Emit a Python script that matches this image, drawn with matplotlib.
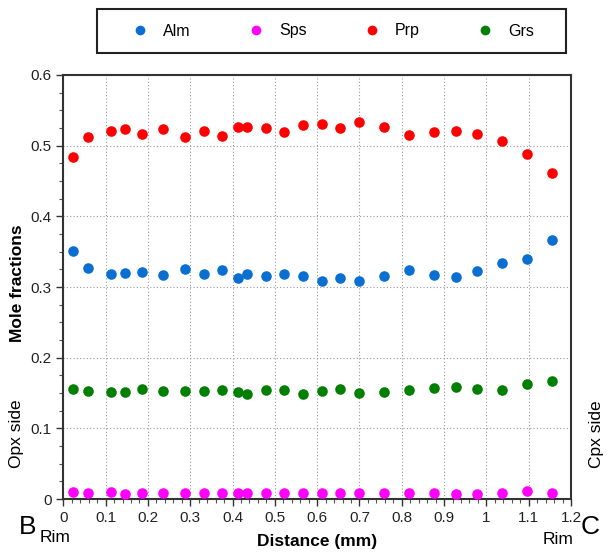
import matplotlib
matplotlib.use("Agg")
import matplotlib.pyplot as plt
from matplotlib.ticker import MultipleLocator
from matplotlib.lines import Line2D
from matplotlib.patches import Rectangle

# distance along the profile (mm)
distance = [0.023, 0.058, 0.112, 0.147, 0.185, 0.236, 0.288, 0.332, 0.376, 0.412,
            0.434, 0.478, 0.522, 0.567, 0.611, 0.655, 0.699, 0.758, 0.817, 0.875,
            0.927, 0.978, 1.036, 1.095, 1.155]

alm = [0.351, 0.327, 0.318, 0.320, 0.321, 0.317, 0.326, 0.318, 0.324, 0.313,
       0.319, 0.315, 0.319, 0.315, 0.308, 0.313, 0.309, 0.315, 0.324, 0.317,
       0.314, 0.322, 0.334, 0.340, 0.366]
sps = [0.010, 0.009, 0.010, 0.007, 0.008, 0.008, 0.009, 0.008, 0.008, 0.009,
       0.008, 0.008, 0.009, 0.009, 0.009, 0.008, 0.008, 0.008, 0.008, 0.008,
       0.0075, 0.0075, 0.008, 0.011, 0.008]
prp = [0.484, 0.512, 0.521, 0.523, 0.517, 0.523, 0.512, 0.521, 0.514, 0.527,
       0.527, 0.525, 0.520, 0.529, 0.531, 0.525, 0.534, 0.527, 0.515, 0.519,
       0.521, 0.517, 0.507, 0.488, 0.461]
grs = [0.155, 0.153, 0.151, 0.152, 0.156, 0.153, 0.153, 0.153, 0.154, 0.152,
       0.148, 0.154, 0.154, 0.148, 0.153, 0.155, 0.150, 0.152, 0.154, 0.157,
       0.159, 0.156, 0.154, 0.163, 0.167]

series = [("Alm", alm, "#0a6fd0"), ("Sps", sps, "#ff00ff"),
          ("Prp", prp, "#ff0000"), ("Grs", grs, "#007f00")]

xticks = [0, 0.1, 0.2, 0.3, 0.4, 0.5, 0.6, 0.7, 0.8, 0.9, 1.0, 1.1, 1.2]
xticklabels = ["0", "0.1", "0.2", "0.3", "0.4", "0.5", "0.6", "0.7", "0.8", "0.9", "1", "1.1", "1.2"]
yticks = [0, 0.1, 0.2, 0.3, 0.4, 0.5, 0.6]
yticklabels = ["0", "0.1", "0.2", "0.3", "0.4", "0.5", "0.6"]

plt.rcParams["font.family"] = ["Liberation Sans", "DejaVu Sans"]

W, H = 611, 553
fig = plt.figure(figsize=(W / 100, H / 100), dpi=100)
ax = fig.add_axes([0.1036, 0.0976, 0.831, 0.7668])

for name, vals, col in series:
    ax.scatter(distance, vals, s=58, color=col, label=name, zorder=3, linewidths=0)

ax.set_xlim(0, 1.2)
ax.set_ylim(0, 0.6)
ax.xaxis.set_minor_locator(MultipleLocator(0.02))
ax.yaxis.set_minor_locator(MultipleLocator(0.025))
ax.set_xticks(xticks)
ax.set_xticklabels(xticklabels)
ax.set_yticks(yticks)
ax.set_yticklabels(yticklabels)
ax.tick_params(which="major", length=5, width=1, labelsize=11, color="#333333", labelcolor="#222222")
ax.tick_params(which="minor", length=3, width=0.8, color="#555555")
ax.grid(True, which="major", linestyle=(0, (1, 2)), color="#999999", linewidth=0.8)
for sp in ax.spines.values():
    sp.set_linewidth(1.5)
    sp.set_color("#333333")

ax.set_xlabel("Distance (mm)", fontsize=12.5, fontweight="bold")
ax.xaxis.label.set_va("center")
ax.xaxis.set_label_coords(0.5, -0.099)
ax.set_ylabel("Mole fractions", fontsize=12.5, fontweight="bold")
ax.yaxis.label.set_va("center")
ax.yaxis.set_label_coords(-0.091, 0.509)

fig.text(28 / W, 1 - 527 / H, "B", fontsize=19, ha="center", va="center")
fig.text(590 / W, 1 - 527 / H, "C", fontsize=19, ha="center", va="center")
fig.text(55 / W, 1 - 538 / H, "Rim", fontsize=12.5, ha="center", va="center")
fig.text(558 / W, 1 - 539 / H, "Rim", fontsize=12.5, ha="center", va="center")
fig.text(17 / W, 1 - 434 / H, "Opx side", fontsize=12.5, rotation=90, ha="center", va="center")
fig.text(597 / W, 1 - 434 / H, "Cpx side", fontsize=12.5, rotation=90, ha="center", va="center")

# legend box at the top
fig.patches.append(Rectangle((97 / W, 1 - 53 / H), 469 / W, 44 / H, transform=fig.transFigure,
                             fill=True, facecolor="white", edgecolor="#222222", linewidth=1.5))
handles = [Line2D([], [], marker="o", linestyle="", markersize=7, markeredgewidth=0,
                  color=col) for _, _, col in series]
fig.legend(handles, [s[0] for s in series], loc="center left", ncol=4,
           bbox_to_anchor=(132 / W, 1 - 31 / H), fontsize=11.5, frameon=False,
           borderpad=0, borderaxespad=0, handlelength=1.0, handletextpad=0.94,
           columnspacing=3.6)

fig.savefig("out.png", dpi=100)
